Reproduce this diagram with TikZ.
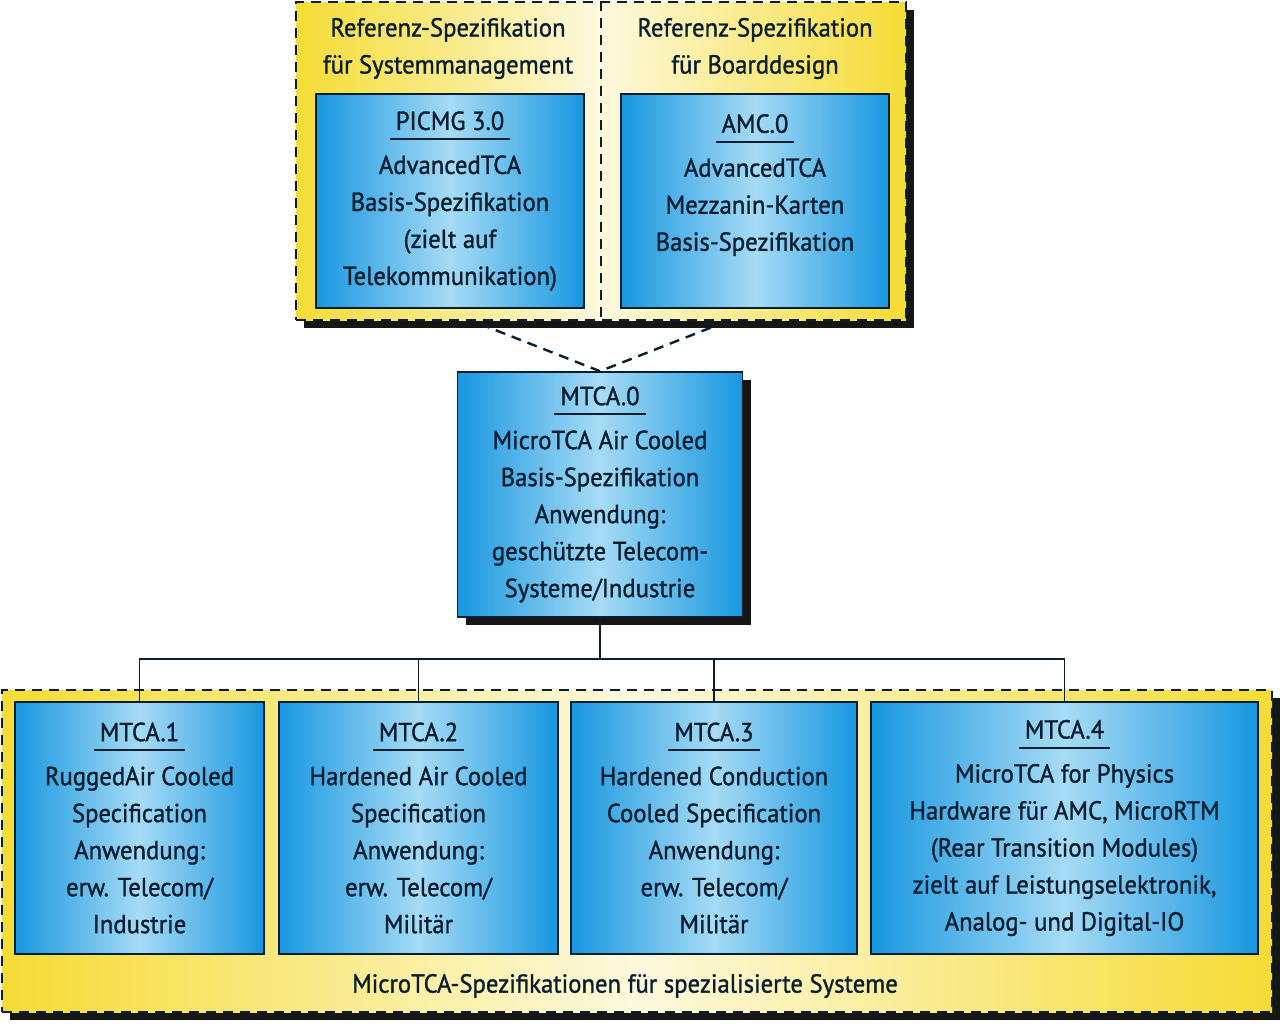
\documentclass[tikz,border=0pt]{standalone}
\usepackage{fontspec}
\setmainfont[FakeStretch=0.95,FakeBold=1.2]{PT Sans}
\usepackage{tikz}
\usetikzlibrary{positioning,shadows}
\definecolor{cNavy}{HTML}{0B1E30}
\definecolor{cBlue}{HTML}{1797E0}
\definecolor{cBlueLt}{HTML}{A6DBF5}
\definecolor{cYellow}{HTML}{F5DC35}
\definecolor{cCream}{HTML}{FDF9DE}
\definecolor{cShadow}{HTML}{161616}
\newcommand{\spfont}{\fontsize{26}{37}\selectfont}
\newcommand{\spttl}[1]{\setbox0\hbox{\hspace{6pt}#1\hspace{6pt}}\rlap{\rule[-10pt]{\wd0}{2pt}}\box0}
\tikzset{
  spbox/.style={draw=cNavy,line width=1.6pt,left color=cBlue,right color=cBlue,middle color=cBlueLt,align=center,inner sep=0pt,text=cNavy,font=\spfont},
  grpbox/.style={draw=cNavy,line width=2.4pt,dash pattern=on 10pt off 7pt,left color=cYellow,right color=cYellow,middle color=cCream,inner sep=0pt},
  shd/.style={drop shadow={shadow xshift=8pt,shadow yshift=-8pt,fill=cShadow,opacity=1}},
  hdr/.style={align=center,font=\spfont,text=cNavy,inner sep=0pt},
  conn/.style={draw=cNavy,line width=1.8pt},
  dconn/.style={draw=cNavy,line width=2.4pt,dash pattern=on 10pt off 7pt},
}

\begin{document}
\begin{tikzpicture}[x=1pt,y=-1pt]
  \useasboundingbox[fill=white] (0,0) rectangle (1280,1023);
  % reference specs
  \node[grpbox,shd,minimum width=610pt,minimum height=318pt] (ref) at (601,161) {};
  \draw[dconn] (ref.north) -- (ref.south);
  \node[hdr] (hsys) at (448,48.5) {Referenz-Spezifikation\\für Systemmanagement};
  \node[hdr] (hbrd) at (755,48.5) {Referenz-Spezifikation\\für Boarddesign};
  \node[spbox,minimum width=268pt,minimum height=214pt] (picmg) at (450,201)
    {\spttl{PICMG 3.0}\\[7pt]AdvancedTCA\\Basis-Spezifikation\\(zielt auf\\Telekommunikation)};
  \node[spbox,minimum width=268pt,minimum height=214pt] (amc) at (755,201)
    {\spttl{AMC.0}\\[7pt]AdvancedTCA\\Mezzanin-Karten\\Basis-Spezifikation\\\mbox{}};
  % base spec
  \node[spbox,shd,minimum width=285pt,minimum height=245pt] (m0) at (600,494.5)
    {\spttl{MTCA.0}\\[7pt]MicroTCA Air Cooled\\Basis-Spezifikation\\Anwendung:\\geschützte Telecom-\\Systeme/Industrie};
  \coordinate (dl) at (480,324);
  \coordinate (dr) at (720,324);
  \draw[dconn] (dl) -- (m0.north) -- (dr);
  % specialised systems
  \node[grpbox,shd,minimum width=1270pt,minimum height=322pt] (spec) at (637,851) {};
  \node[hdr] (cap) at (625,986) {MicroTCA-Spezifikationen für spezialisierte Systeme};
  \node[spbox,minimum width=249pt,minimum height=252pt] (m1) at (139.5,828)
    {\spttl{MTCA.1}\\[7pt]RuggedAir Cooled\\Specification\\Anwendung:\\erw. Telecom/\\Industrie};
  \node[spbox,minimum width=279pt,minimum height=252pt] (m2) at (418.5,828)
    {\spttl{MTCA.2}\\[7pt]Hardened Air Cooled\\Specification\\Anwendung:\\erw. Telecom/\\Militär};
  \node[spbox,minimum width=286pt,minimum height=252pt] (m3) at (714,828)
    {\spttl{MTCA.3}\\[7pt]Hardened Conduction\\Cooled Specification\\Anwendung:\\erw. Telecom/\\Militär};
  \node[spbox,minimum width=387pt,minimum height=252pt] (m4) at (1064.5,828)
    {\spttl{MTCA.4}\\[7pt]MicroTCA for Physics\\Hardware für AMC, MicroRTM\\(Rear Transition Modules)\\zielt auf Leistungselektronik,\\Analog- und Digital-IO};
  % tree
  \coordinate (bus) at (600,659);
  \draw[conn] (m0.south) -- (bus);
  \draw[conn] (m1.north) -- (m1.north |- bus) -- (m4.north |- bus) -- (m4.north);
  \foreach \m in {m2,m3}
    \draw[conn] (\m.north) -- (\m.north |- bus);
\end{tikzpicture}
\end{document}
